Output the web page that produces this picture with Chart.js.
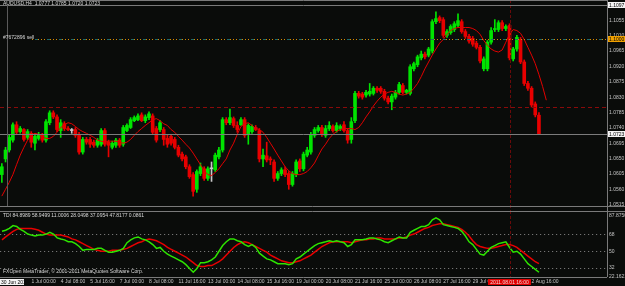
<!DOCTYPE html>
<html><head><meta charset="utf-8">
<script src="https://cdn.jsdelivr.net/npm/chart.js@4/dist/chart.umd.min.js"></script>
<style>
html,body{margin:0;padding:0;background:#0a0c0a;overflow:hidden;}
#wrap{position:relative;width:625px;height:286px;background:#0a0c0a;}
canvas{position:absolute;left:0;display:block;}
#c1{top:0;} #c2{top:211px;}
</style></head><body>
<div id="wrap"><canvas id="c1" width="625" height="211"></canvas><canvas id="c2" width="625" height="75"></canvas></div>
<script>
const symbolTitle = 'AUDUSD,H4  1.0777 1.0785 1.0720 1.0723';
const orderText = '#7672896 sell';
const tdiTitle = 'TDI 84.8989 58.9499 11.0006 28.0498 37.0954 47.8177 0.0861';
const copyrightText = 'FXOpen MetaTrader, \u00a9 2001-2011 MetaQuotes Software Corp.';

const opens = [1.0603,1.0649,1.0675,1.0704,1.0749,1.0729,1.0735,1.0712,1.0724,1.0695,
1.0709,1.0718,1.0704,1.0755,1.0784,1.0772,1.0732,1.0752,1.0738,1.0732,
1.0735,1.0721,1.0669,1.0706,1.0706,1.0698,1.0689,1.0692,1.0732,1.0698,
1.0683,1.0689,1.0704,1.0692,1.0732,1.0741,1.0761,1.0764,1.0778,1.0761,
1.0770,1.0775,1.0738,1.0735,1.0735,1.0709,1.0715,1.0706,1.0683,1.0663,
1.0655,1.0626,1.0603,1.0560,1.0606,1.0620,1.0592,1.0620,1.0617,1.0655,
1.0675,1.0764,1.0755,1.0767,1.0747,1.0749,1.0764,1.0721,1.0729,1.0741,
1.0732,1.0649,1.0658,1.0649,1.0640,1.0592,1.0606,1.0617,1.0606,1.0574,
1.0603,1.0643,1.0620,1.0660,1.0669,1.0718,1.0732,1.0741,1.0718,1.0738,
1.0744,1.0732,1.0738,1.0749,1.0732,1.0706,1.0761,1.0841,1.0839,1.0836,
1.0839,1.0841,1.0856,1.0856,1.0847,1.0827,1.0816,1.0830,1.0844,1.0864,
1.0844,1.0841,1.0913,1.0925,1.0945,1.0956,1.0953,1.0965,1.1051,1.1063,
1.1057,1.1011,1.1019,1.1028,1.1040,1.1051,1.1022,1.1008,1.1002,1.0988,
1.0976,1.0913,1.0913,1.0991,1.1028,1.1028,1.1048,1.1031,1.1040,1.0942,
1.0971,1.0999,1.0933,1.0870,1.0856,1.0810,1.0777];
const highs = [1.0635,1.0683,1.0718,1.0755,1.0758,1.0744,1.0738,1.0735,1.0729,1.0718,
1.0727,1.0724,1.0764,1.0790,1.0790,1.0778,1.0764,1.0758,1.0744,1.0738,
1.0741,1.0727,1.0712,1.0712,1.0712,1.0704,1.0709,1.0738,1.0738,1.0704,
1.0701,1.0709,1.0709,1.0747,1.0752,1.0770,1.0775,1.0781,1.0784,1.0778,
1.0787,1.0781,1.0744,1.0761,1.0741,1.0718,1.0721,1.0712,1.0689,1.0669,
1.0660,1.0632,1.0609,1.0617,1.0637,1.0626,1.0626,1.0640,1.0666,1.0683,
1.0770,1.0770,1.0795,1.0772,1.0758,1.0770,1.0770,1.0752,1.0749,1.0747,
1.0738,1.0678,1.0698,1.0655,1.0646,1.0612,1.0623,1.0626,1.0612,1.0612,
1.0646,1.0649,1.0669,1.0683,1.0727,1.0741,1.0747,1.0747,1.0747,1.0758,
1.0749,1.0755,1.0749,1.0758,1.0738,1.0770,1.0847,1.0847,1.0844,1.0850,
1.0870,1.0861,1.0861,1.0861,1.0853,1.0833,1.0839,1.0850,1.0873,1.0870,
1.0853,1.0925,1.0933,1.0953,1.0965,1.0962,1.0976,1.1057,1.1080,1.1068,
1.1063,1.1028,1.1042,1.1051,1.1074,1.1057,1.1028,1.1014,1.1008,1.0994,
1.0982,1.0948,1.0996,1.1034,1.1057,1.1054,1.1054,1.1042,1.1045,1.0976,
1.1011,1.1005,1.0939,1.0876,1.0861,1.0816,1.0785];
const lows = [1.0580,1.0640,1.0669,1.0698,1.0721,1.0724,1.0701,1.0706,1.0683,1.0675,
1.0704,1.0698,1.0698,1.0749,1.0767,1.0729,1.0712,1.0732,1.0732,1.0724,
1.0712,1.0663,1.0663,1.0692,1.0683,1.0683,1.0683,1.0686,1.0686,1.0655,
1.0678,1.0683,1.0683,1.0686,1.0729,1.0738,1.0758,1.0761,1.0758,1.0755,
1.0764,1.0721,1.0698,1.0729,1.0689,1.0683,1.0689,1.0678,1.0655,1.0643,
1.0620,1.0592,1.0540,1.0551,1.0600,1.0586,1.0586,1.0583,1.0612,1.0649,
1.0669,1.0749,1.0749,1.0741,1.0727,1.0747,1.0712,1.0692,1.0724,1.0732,
1.0640,1.0626,1.0640,1.0632,1.0583,1.0586,1.0600,1.0597,1.0560,1.0569,
1.0597,1.0612,1.0614,1.0655,1.0663,1.0712,1.0727,1.0715,1.0712,1.0732,
1.0727,1.0727,1.0732,1.0727,1.0695,1.0695,1.0755,1.0827,1.0824,1.0830,
1.0833,1.0836,1.0844,1.0841,1.0821,1.0810,1.0793,1.0824,1.0839,1.0839,
1.0839,1.0836,1.0907,1.0919,1.0939,1.0942,1.0948,1.0959,1.1045,1.1048,
1.1005,1.1005,1.1014,1.1022,1.1034,1.1017,1.1002,1.0988,1.0979,1.0971,
1.0930,1.0907,1.0907,1.0985,1.1022,1.1022,1.1025,1.1025,1.0939,1.0936,
1.0965,1.0928,1.0864,1.0850,1.0801,1.0772,1.0720];
const closes = [1.0626,1.0675,1.0712,1.0749,1.0727,1.0738,1.0706,1.0729,1.0698,1.0715,
1.0721,1.0704,1.0758,1.0784,1.0772,1.0735,1.0755,1.0738,1.0735,1.0732,
1.0718,1.0669,1.0706,1.0698,1.0692,1.0689,1.0704,1.0732,1.0692,1.0689,
1.0695,1.0704,1.0689,1.0741,1.0747,1.0764,1.0770,1.0775,1.0761,1.0772,
1.0781,1.0727,1.0704,1.0755,1.0706,1.0692,1.0695,1.0683,1.0660,1.0649,
1.0626,1.0597,1.0554,1.0612,1.0626,1.0592,1.0620,1.0620,1.0660,1.0675,
1.0764,1.0755,1.0770,1.0747,1.0735,1.0764,1.0718,1.0747,1.0744,1.0735,
1.0649,1.0660,1.0646,1.0646,1.0592,1.0606,1.0617,1.0603,1.0574,1.0606,
1.0640,1.0620,1.0663,1.0675,1.0721,1.0735,1.0741,1.0721,1.0738,1.0747,
1.0732,1.0747,1.0744,1.0732,1.0704,1.0758,1.0841,1.0833,1.0830,1.0844,
1.0847,1.0856,1.0850,1.0847,1.0827,1.0816,1.0833,1.0844,1.0867,1.0844,
1.0850,1.0919,1.0928,1.0948,1.0956,1.0948,1.0971,1.1051,1.1060,1.1054,
1.1011,1.1022,1.1037,1.1045,1.1054,1.1022,1.1008,1.0994,1.0985,1.0976,
1.0936,1.0942,1.0991,1.1025,1.1031,1.1048,1.1031,1.1037,1.0945,1.0971,
1.1005,1.0933,1.0870,1.0856,1.0807,1.0778,1.0723];
const maLine = [1.0540,1.0560,1.0580,1.0603,1.0632,1.0660,1.0683,1.0704,1.0718,1.0724,
1.0721,1.0715,1.0709,1.0709,1.0715,1.0727,1.0741,1.0749,1.0755,1.0752,
1.0744,1.0735,1.0729,1.0724,1.0718,1.0712,1.0704,1.0701,1.0698,1.0701,
1.0701,1.0701,1.0698,1.0695,1.0698,1.0706,1.0718,1.0729,1.0738,1.0747,
1.0755,1.0764,1.0767,1.0761,1.0752,1.0747,1.0735,1.0727,1.0715,1.0704,
1.0692,1.0681,1.0666,1.0649,1.0632,1.0614,1.0603,1.0600,1.0609,1.0620,
1.0635,1.0649,1.0675,1.0695,1.0721,1.0744,1.0752,1.0755,1.0747,1.0738,
1.0735,1.0727,1.0712,1.0695,1.0678,1.0660,1.0643,1.0626,1.0614,1.0606,
1.0603,1.0603,1.0606,1.0612,1.0623,1.0637,1.0658,1.0678,1.0692,1.0709,
1.0721,1.0729,1.0735,1.0738,1.0738,1.0738,1.0735,1.0741,1.0755,1.0772,
1.0787,1.0804,1.0818,1.0830,1.0839,1.0844,1.0847,1.0844,1.0839,1.0836,
1.0839,1.0844,1.0856,1.0870,1.0890,1.0913,1.0933,1.0953,1.0971,1.0988,
1.0999,1.1014,1.1025,1.1031,1.1034,1.1034,1.1034,1.1034,1.1031,1.1025,
1.1014,1.0996,1.0982,1.0971,1.0965,1.0962,1.0968,1.0991,1.1014,1.1028,
1.1025,1.1017,1.0999,1.0976,1.0953,1.0928,1.0896,1.0861,1.0821];
const tdiGreen = [71.4,72.5,74.5,77.6,76.6,73.5,71.4,68.4,67.3,66.3,
67.3,67.3,68.4,70.4,68.4,64.3,63.2,62.2,60.1,60.1,
58.1,55.0,50.9,51.9,51.9,51.9,53.0,53.0,50.9,48.9,
48.9,49.9,50.9,53.0,59.1,62.2,64.3,65.3,63.2,62.2,
60.1,57.1,53.0,54.0,49.9,46.8,44.7,42.7,40.6,38.6,
35.5,31.4,27.3,31.4,37.6,37.6,38.6,40.6,43.7,49.9,
56.0,60.1,63.2,63.2,61.2,60.1,57.1,55.0,57.1,54.0,
47.8,44.7,41.7,40.6,38.6,36.5,36.5,36.5,35.5,36.5,
41.7,43.7,46.8,49.9,53.0,56.0,58.1,59.1,60.1,61.2,
60.1,61.2,60.1,59.1,55.0,57.1,62.2,62.2,62.2,63.2,
64.3,64.3,63.2,62.2,60.1,59.1,61.2,63.2,65.3,64.3,
64.3,70.4,72.5,74.5,76.6,76.6,78.6,83.8,85.8,83.8,
78.6,77.6,76.6,75.6,74.5,71.4,66.3,60.1,57.1,51.9,
46.8,45.8,49.9,54.0,56.0,58.1,59.1,60.1,54.0,48.9,
49.9,46.8,41.7,36.5,33.5,30.4,27.3];
const tdiRed = [62.2,65.3,68.4,71.4,73.5,74.5,74.5,74.5,74.5,73.5,
72.5,70.4,68.4,67.3,67.3,67.3,67.3,66.3,65.3,63.2,
62.2,60.1,58.1,56.0,54.0,51.9,50.9,49.9,49.9,49.9,
50.9,50.9,50.9,51.9,53.0,55.0,57.1,59.1,60.1,62.2,
63.2,62.2,61.2,59.1,57.1,54.0,51.9,49.9,47.8,45.8,
43.7,40.6,37.6,34.5,33.5,33.5,34.5,34.5,36.5,38.6,
41.7,45.8,49.9,54.0,57.1,59.1,60.1,59.1,57.1,55.0,
53.0,50.9,48.9,45.8,43.7,41.7,39.6,38.6,37.6,37.6,
38.6,39.6,41.7,43.7,45.8,48.9,51.9,55.0,57.1,59.1,
60.1,60.1,60.1,60.1,60.1,59.1,60.1,61.2,62.2,62.2,
63.2,63.2,64.3,64.3,63.2,63.2,63.2,63.2,64.3,64.3,
65.3,67.3,68.4,70.4,72.5,74.5,75.6,77.6,78.6,79.6,
79.6,78.6,77.6,76.6,75.6,73.5,70.4,66.3,61.2,57.1,
55.0,54.0,53.0,53.0,54.0,55.0,56.0,57.1,57.1,56.0,
54.0,50.9,47.8,44.7,41.7,38.6,36.5];

const xTickLabels = ['1 Jul 00:00','4 Jul 08:00','5 Jul 16:00','7 Jul 00:00','8 Jul 08:00','11 Jul 16:00',
'13 Jul 00:00','14 Jul 08:00','15 Jul 16:00','19 Jul 00:00','20 Jul 08:00','21 Jul 16:00','25 Jul 00:00',
'26 Jul 08:00','27 Jul 16:00','29 Jul 00:00','1 Aug 08:00','2 Aug 16:00'];
const firstDateLabel = '30 Jun 2011';
const markerDateLabel = '2011.08.01 16:00';
const markerBar = 138;
const priceTicks = [1.0515,1.0560,1.0605,1.0650,1.0695,1.0740,1.0785,1.0830,1.0875,1.0920,1.0965,1.1010,1.1055];
const tdiTicks = [22.1621,32,50,68,87.875];
const tdiTickLabels = ['22.1621','32','50','68','87.8750'];
const tdiLevels = [68,50,32];
const priceMin = 1.0511, priceMax = 1.1097;
const tdiMin = 22.1621, tdiMax = 87.875;
const orderPrice = 1.1000, tpPrice = 1.0800, bidPrice = 1.0723;
const totalSlots = 165;

const categories = Array.from({length: totalSlots}, (_, i) =>
  (i >= 8 && (i - 8) % 8 === 0 && xTickLabels[(i - 8) / 8]) ? xTickLabels[(i - 8) / 8] : '');

const GREEN = '#00e400', RED = '#e80000', DOJI = '#c8c8c8';
const candleColors = opens.map((o, i) => closes[i] > o ? GREEN : (closes[i] < o ? RED : DOJI));
const FONT = {family: 'Liberation Sans', size: 5};
const TXT = '#c4c4c4';
const FRAME = '#7a7a7a';

function hline(ctx, x0, x1, y, color, dash) {
  ctx.save(); ctx.strokeStyle = color; ctx.lineWidth = 1; ctx.setLineDash(dash || []);
  ctx.beginPath(); ctx.moveTo(x0, Math.round(y) + 0.5); ctx.lineTo(x1, Math.round(y) + 0.5); ctx.stroke(); ctx.restore();
}
function vline(ctx, x, y0, y1, color, dash) {
  ctx.save(); ctx.strokeStyle = color; ctx.lineWidth = 1; ctx.setLineDash(dash || []);
  ctx.beginPath(); ctx.moveTo(Math.round(x) + 0.5, y0); ctx.lineTo(Math.round(x) + 0.5, y1); ctx.stroke(); ctx.restore();
}
function box(ctx, x, yc, w, text, bg, fg) {
  ctx.save(); ctx.fillStyle = bg; ctx.fillRect(x, Math.round(yc) - 3, w, 6);
  ctx.fillStyle = fg; ctx.font = '5px "Liberation Sans"'; ctx.textBaseline = 'middle'; ctx.textAlign = 'left';
  ctx.fillText(text, x + 1, Math.round(yc) + 0.3); ctx.restore();
}

const mainOverlay = {
  id: 'mainOverlay',
  afterDatasetsDraw(chart) {
    const {ctx, chartArea: a, scales: {x, y}} = chart;
    const oy = y.getPixelForValue(orderPrice);
    hline(ctx, 32, a.right, oy, '#d88a00', [1, 2]);
    ctx.save(); ctx.strokeStyle = '#1d6a6a'; ctx.setLineDash([3, 9]); ctx.lineDashOffset = -1;
    ctx.beginPath(); ctx.moveTo(34, Math.round(oy) + 0.5); ctx.lineTo(a.right, Math.round(oy) + 0.5); ctx.stroke(); ctx.restore();
    hline(ctx, a.left, a.right, y.getPixelForValue(tpPrice), '#8a0a0a', [4, 3]);
    hline(ctx, a.left, a.right, y.getPixelForValue(bidPrice), '#7c7c7c');
    vline(ctx, x.getPixelForValue(markerBar), 0, chart.height, '#6a0a0a', [3, 2]);
  },
  afterDraw(chart) {
    const {ctx, chartArea: a, scales: {y}} = chart;
    hline(ctx, 0, a.right, 0, FRAME);
    hline(ctx, 0, a.right, 5, FRAME);
    hline(ctx, 0, 625, a.bottom, FRAME);
    vline(ctx, 7, 5, a.bottom, '#5a5a5a');
    vline(ctx, a.right, 0, chart.height, FRAME);
    ctx.save(); ctx.font = '5px "Liberation Sans"'; ctx.fillStyle = '#d8d8d8'; ctx.textBaseline = 'top';
    ctx.fillText(symbolTitle, 3, 1.5);
    ctx.fillText(orderText, 3, y.getPixelForValue(orderPrice) - 4);
    ctx.restore();
    box(ctx, a.right + 1, 5, 17, priceMax.toFixed(4), '#f4f4f4', '#000');
    box(ctx, a.right + 1, y.getPixelForValue(orderPrice), 17, orderPrice.toFixed(4), '#f0a000', '#000');
    box(ctx, a.right + 1, y.getPixelForValue(bidPrice), 17, bidPrice.toFixed(4), '#f4f4f4', '#000');
  }
};

const subOverlay = {
  id: 'subOverlay',
  beforeDatasetsDraw(chart) {
    const {ctx, chartArea: a, scales: {y}} = chart;
    tdiLevels.forEach(v => hline(ctx, a.left, a.right, y.getPixelForValue(v), '#8a8a8a', [1, 3]));
  },
  afterDatasetsDraw(chart) {
    const {ctx, chartArea: a, scales: {x}} = chart;
    vline(ctx, x.getPixelForValue(markerBar), 0, a.bottom, '#6a0a0a', [3, 2]);
  },
  afterDraw(chart) {
    const {ctx, chartArea: a, scales: {x}} = chart;
    hline(ctx, 0, 625, 0, FRAME);
    hline(ctx, 0, a.right, a.bottom, FRAME);
    vline(ctx, a.right, 0, a.bottom, FRAME);
    ctx.save(); ctx.font = '5px "Liberation Sans"'; ctx.fillStyle = '#d8d8d8'; ctx.textBaseline = 'top';
    ctx.fillText(tdiTitle, 3, 2);
    ctx.fillText(copyrightText, 3, a.bottom - 8);
    ctx.restore();
    const ly = a.bottom + 5;
    ctx.save(); ctx.font = '5px "Liberation Sans"';
    ctx.fillStyle = '#f4f4f4'; ctx.fillRect(0, ly - 3, 24, 6);
    ctx.beginPath(); ctx.rect(0, ly - 3, 24, 6); ctx.clip();
    ctx.fillStyle = '#000'; ctx.textBaseline = 'middle'; ctx.fillText(firstDateLabel, 1, ly + 0.3);
    ctx.restore();
    ctx.save(); ctx.font = '5px "Liberation Sans"';
    const mx = x.getPixelForValue(markerBar);
    const w = ctx.measureText(markerDateLabel).width + 4;
    ctx.fillStyle = '#e00000'; ctx.fillRect(Math.round(mx - w / 2), ly - 3, Math.round(w), 6);
    ctx.fillStyle = '#f0d0d0'; ctx.textBaseline = 'middle'; ctx.textAlign = 'center';
    ctx.fillText(markerDateLabel, mx, ly + 0.3);
    ctx.restore();
  }
};

new Chart(document.getElementById('c1'), {
  type: 'bar',
  data: {
    labels: categories,
    datasets: [
      {type: 'line', data: maLine, borderColor: '#e40000', borderWidth: 1, pointRadius: 0, tension: 0, order: 0},
      {type: 'bar', data: opens.map((o, i) => [o, closes[i]]), backgroundColor: candleColors,
       barThickness: 3, minBarLength: 1, grouped: false, order: 1},
      {type: 'bar', data: lows.map((l, i) => [l, highs[i]]), backgroundColor: candleColors,
       barThickness: 1, grouped: false, order: 2}
    ]
  },
  options: {
    responsive: false, animation: false, devicePixelRatio: 1,
    layout: {padding: {top: 6, bottom: 1, left: 0, right: 0}},
    plugins: {legend: {display: false}, tooltip: {enabled: false}},
    scales: {
      x: {display: false, offset: true, grid: {display: false}},
      y: {position: 'right', min: priceMin, max: priceMax,
          grid: {display: false, drawTicks: false}, border: {display: false},
          afterFit(s) { s.width = 18; },
          afterBuildTicks(s) { s.ticks = priceTicks.map(v => ({value: v})); },
          ticks: {color: TXT, font: FONT, padding: 2, callback: v => Number(v).toFixed(4)}}
    }
  },
  plugins: [mainOverlay]
});

new Chart(document.getElementById('c2'), {
  type: 'line',
  data: {
    labels: categories,
    datasets: [
      {data: tdiGreen, borderColor: '#2ee400', borderWidth: 1.5, pointRadius: 0, tension: 0},
      {data: tdiRed, borderColor: '#e80000', borderWidth: 1.5, pointRadius: 0, tension: 0}
    ]
  },
  options: {
    responsive: false, animation: false, devicePixelRatio: 1,
    layout: {padding: {top: 2, bottom: 0, left: 0, right: 0}},
    plugins: {legend: {display: false}, tooltip: {enabled: false}},
    scales: {
      x: {offset: true, grid: {display: false, drawTicks: false}, border: {display: false},
          afterFit(s) { s.height = 9; },
          ticks: {autoSkip: false, maxRotation: 0, minRotation: 0, align: 'start', color: TXT, font: FONT, padding: 2,
                  callback: (v, i) => categories[i]}},
      y: {position: 'right', min: tdiMin, max: tdiMax,
          grid: {display: false, drawTicks: false}, border: {display: false},
          afterFit(s) { s.width = 18; },
          afterBuildTicks(s) { s.ticks = tdiTicks.map(v => ({value: v})); },
          ticks: {color: TXT, font: FONT, padding: 2,
                  callback: (v) => { const k = tdiTicks.indexOf(v); return k >= 0 ? tdiTickLabels[k] : ''; }}}
    }
  },
  plugins: [subOverlay]
});
</script>
</body></html>
